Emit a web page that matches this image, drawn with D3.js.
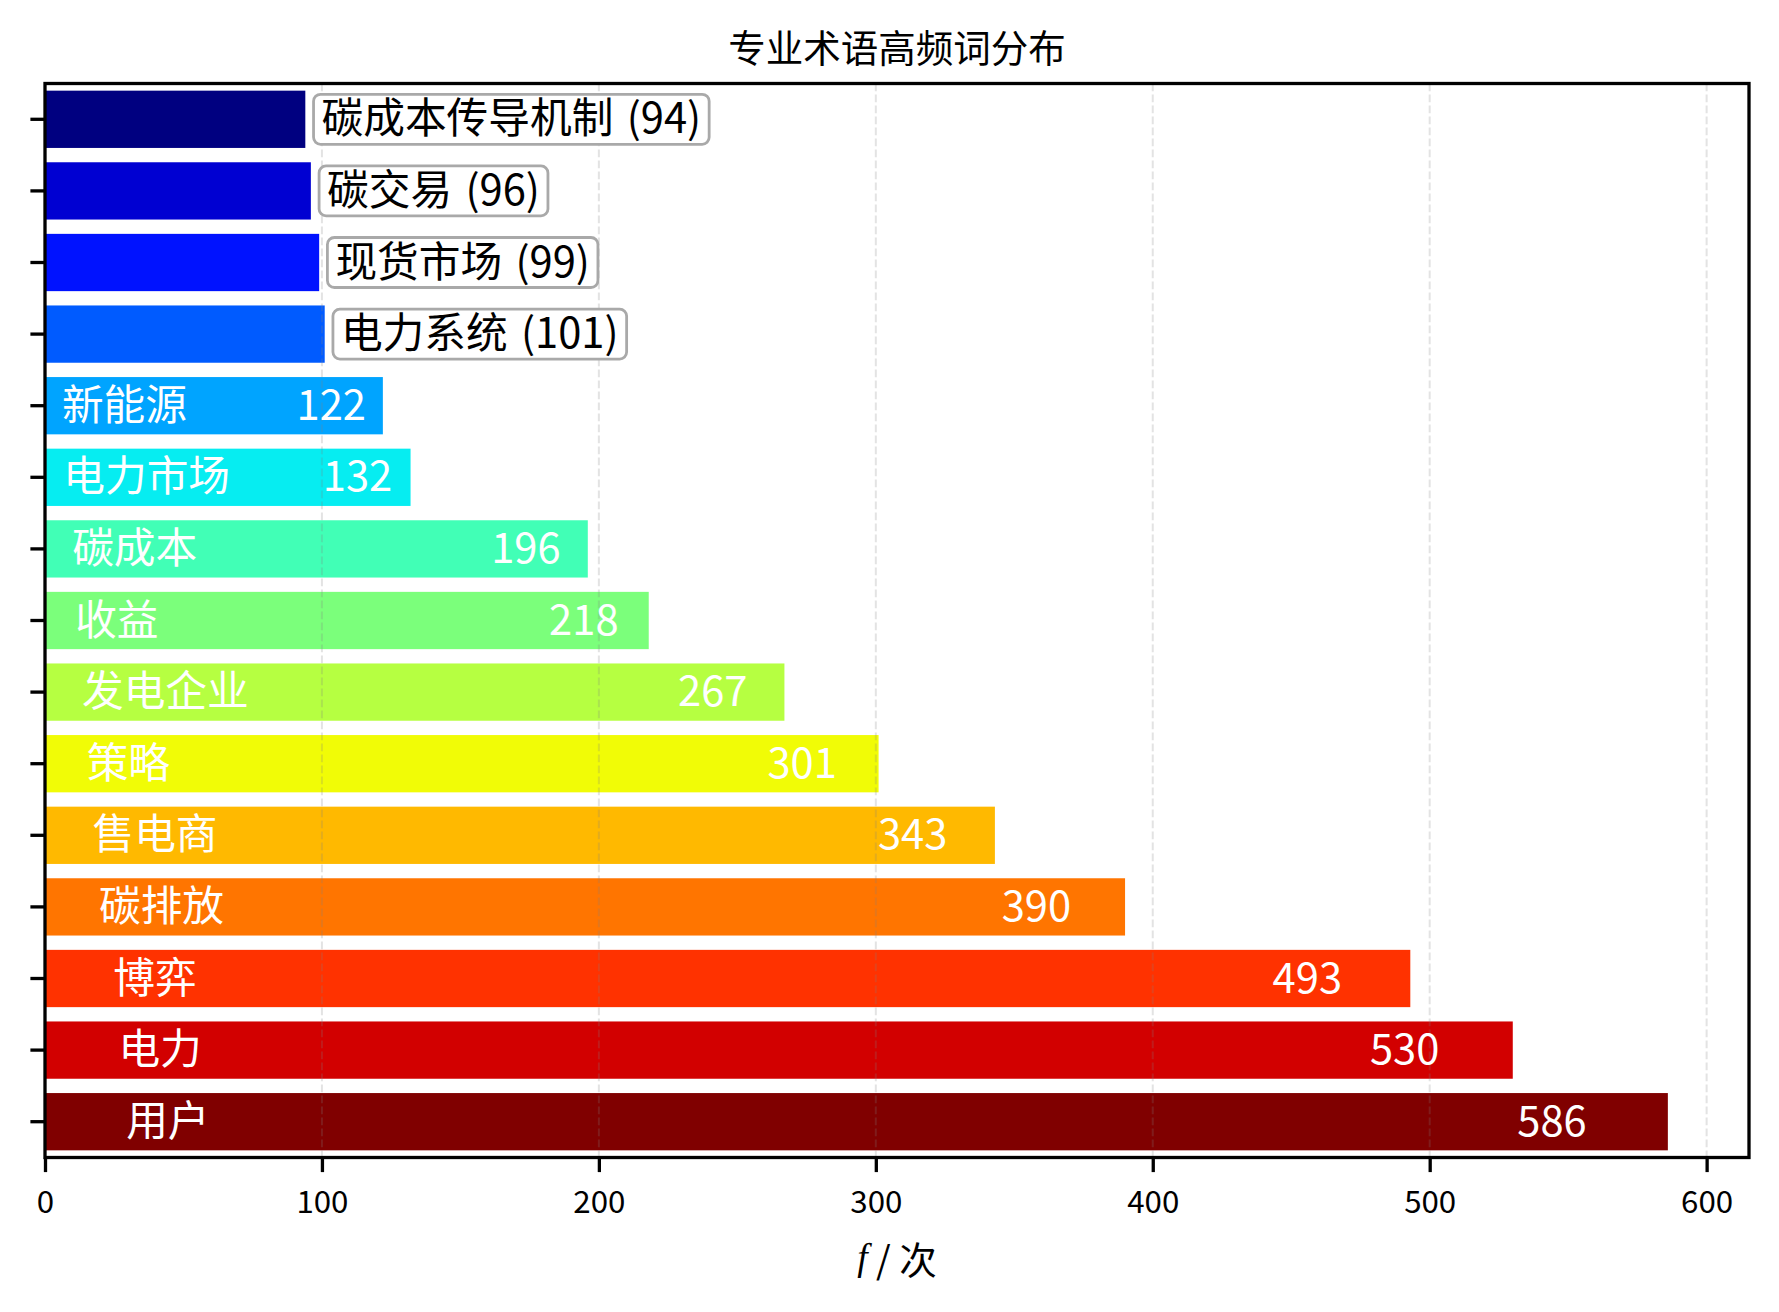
<!DOCTYPE html>
<html>
<head>
<meta charset="utf-8">
<script src="https://cdn.jsdelivr.net/npm/d3@7"></script>
<style>
  body { margin: 0; background: #fff; }
  svg { display: block; }
  text { font-family: "Noto Sans CJK SC", "Noto Sans", sans-serif; }
</style>
</head>
<body>
<div id="chart"></div>
<script>
// term frequency data, top to bottom
const terms = ["碳成本传导机制", "碳交易", "现货市场", "电力系统", "新能源", "电力市场", "碳成本",
               "收益", "发电企业", "策略", "售电商", "碳排放", "博弈", "电力", "用户"];
const counts = [94, 96, 99, 101, 122, 132, 196, 218, 267, 301, 343, 390, 493, 530, 586];
const xTicks = [0, 100, 200, 300, 400, 500, 600];
const title = "专业术语高频词分布";

const W = 1779, H = 1312;
const plot = { left: 45, right: 1749, top: 83.5, bottom: 1157.5 };

// matplotlib "jet" colormap, piecewise linear per channel
const jetR = d3.scaleLinear().domain([0, 0.35, 0.66, 0.89, 1]).range([0, 0, 1, 1, 0.5]).clamp(true);
const jetG = d3.scaleLinear().domain([0, 0.125, 0.375, 0.64, 0.91, 1]).range([0, 0, 1, 1, 0, 0]).clamp(true);
const jetB = d3.scaleLinear().domain([0, 0.11, 0.34, 0.65, 1]).range([0.5, 1, 1, 0, 0]).clamp(true);
function jet(t) {
  return d3.rgb(jetR(t) * 255, jetG(t) * 255, jetB(t) * 255).formatHex();
}

const maxVal = d3.max(counts);
const x = d3.scaleLinear()
  .domain([0, maxVal * 1.05])
  .range([plot.left, plot.right]);

const y = d3.scaleBand()
  .domain(terms)
  .range([plot.top, plot.bottom])
  .paddingInner(0.2)
  .paddingOuter(0.1);

const data = terms.map((t, i) => ({ term: t, value: counts[i], idx: i }));

const svg = d3.select("#chart").append("svg")
  .attr("width", W)
  .attr("height", H);

// title
svg.append("text")
  .attr("x", (plot.left + plot.right) / 2)
  .attr("y", 45)
  .attr("text-anchor", "middle")
  .attr("dominant-baseline", "central")
  .style("font-size", "37.5px")
  .text(title);

//bars
svg.append("g").selectAll("rect")
  .data(data)
  .join("rect")
  .attr("x", x(0))
  .attr("y", d => y(d.term))
  .attr("width", d => x(d.value) - x(0))
  .attr("height", y.bandwidth())
  .attr("fill", d => jet(d.idx / (terms.length - 1)));

// vertical dashed grid, drawn over the bars
svg.append("g").selectAll("line")
  .data(xTicks)
  .join("line")
  .attr("x1", d => x(d)).attr("x2", d => x(d))
  .attr("y1", plot.top).attr("y2", plot.bottom)
  .attr("stroke", "#808080")
  .attr("stroke-opacity", 0.22)
  .attr("stroke-width", 2)
  .attr("stroke-dasharray", "7.7,3.3");

// labels
const labelSize = 41.7;
const lift = -4; // nudge so glyphs sit at the bar centre
const inside = data.filter(d => d.value >= maxVal * 0.2);
const outside = data.filter(d => d.value < maxVal * 0.2);

let gIn = svg.append("g").attr("fill", "#fff").style("font-size", labelSize + "px");
gIn.selectAll("text.name")
  .data(inside)
  .join("text")
  .attr("class", "name")
  .attr("x", d => x(d.value * 0.05))
  .attr("y", d => y(d.term) + y.bandwidth() / 2 + lift)
  .attr("dominant-baseline", "central")
  .text(d => d.term);
gIn.selectAll("text.val")
  .data(inside)
  .join("text")
  .attr("class", "val")
  .attr("x", d => x(d.value * 0.95))
  .attr("y", d => y(d.term) + y.bandwidth() / 2 + lift)
  .attr("text-anchor", "end")
  .attr("dominant-baseline", "central")
  .text(d => d.value);

let gOut = svg.append("g").style("font-size", labelSize + "px");
let outLabels = gOut.selectAll("g")
  .data(outside)
  .join("g");
let boxes = outLabels.append("rect")
  .attr("fill", "#fff")
  .attr("stroke", "#a9a9a9")
  .attr("stroke-width", 2.8)
  .attr("rx", 7).attr("ry", 7);
outLabels.append("text")
  .attr("x", d => x(d.value + maxVal * 0.01))
  .attr("y", d => y(d.term) + y.bandwidth() / 2 + lift)
  .attr("dominant-baseline", "central")
  .attr("fill", "#000")
  .attr("word-spacing", "4px")
  .text(d => d.term + " (" + d.value + ")");
boxes.each(function(d) {
  let bb = this.parentNode.querySelector("text").getBBox();
  let pad = 8;
  let cy = y(d.term) + y.bandwidth() / 2;
  d3.select(this)
    .attr("x", bb.x - pad)
    .attr("width", bb.width + 2 * pad)
    .attr("y", cy - 25)
    .attr("height", 50);
});

// axes
const tickLen = 14.6;
let xAxis = svg.append("g")
  .attr("transform", "translate(0," + plot.bottom + ")")
  .call(d3.axisBottom(x).tickValues(xTicks).tickSize(tickLen).tickPadding(8).tickFormat(d3.format("d")));
xAxis.select(".domain").remove();
xAxis.selectAll(".tick line").attr("stroke", "#000").attr("stroke-width", 3.3);
xAxis.selectAll(".tick text")
  .attr("dy", null)
  .attr("y", 55)
  .attr("fill", "#000")
  .style("font-size", "31.25px")
  .style("font-family", "'Noto Sans CJK SC', sans-serif");

let yAxis = svg.append("g")
  .attr("transform", "translate(" + plot.left + ",0)")
  .call(d3.axisLeft(y).tickSize(tickLen).tickFormat(""));
yAxis.select(".domain").remove();
yAxis.selectAll(".tick line").attr("stroke", "#000").attr("stroke-width", 3.3);

// frame
svg.append("rect")
  .attr("x", plot.left).attr("y", plot.top)
  .attr("width", plot.right - plot.left)
  .attr("height", plot.bottom - plot.top)
  .attr("fill", "none")
  .attr("stroke", "#000")
  .attr("stroke-width", 3.3);

// x axis label
let xl = svg.append("text")
  .attr("x", (plot.left + plot.right) / 2)
  .attr("y", 1257)
  .attr("text-anchor", "middle")
  .attr("dominant-baseline", "central")
  .style("font-size", "37.5px");
xl.append("tspan")
  .style("font-family", "'Liberation Serif', 'DejaVu Serif', serif")
  .style("font-style", "italic")
  .text("f");
xl.append("tspan").text(" / 次");
</script>
</body>
</html>
